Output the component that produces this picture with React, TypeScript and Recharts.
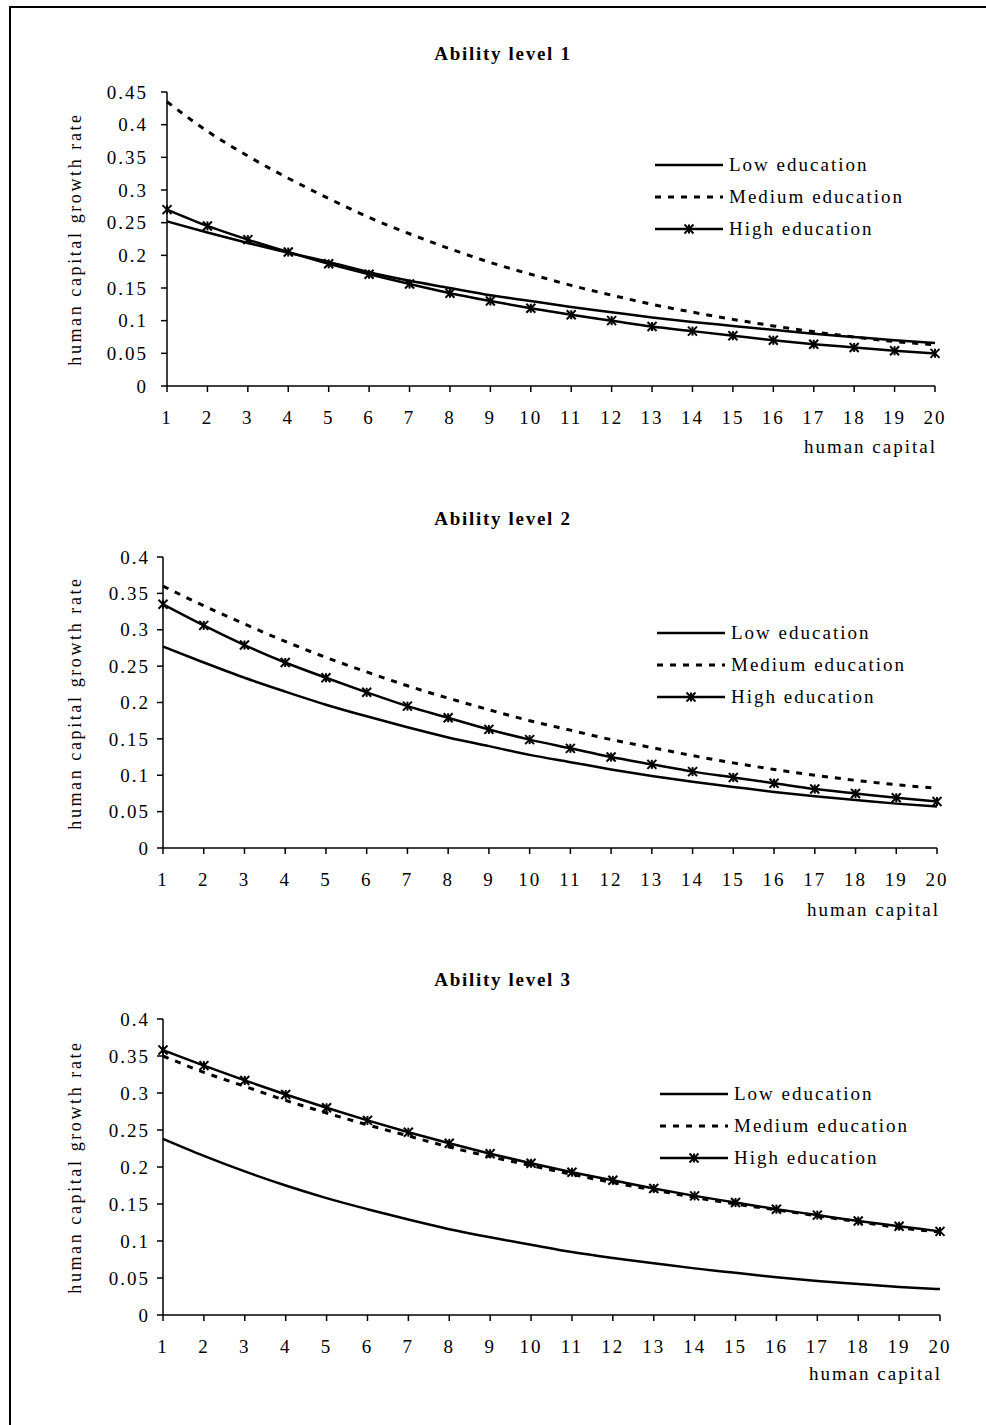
import { LineChart, Line, XAxis, YAxis, Legend } from "recharts";

const humanCapital = [1, 2, 3, 4, 5, 6, 7, 8, 9, 10, 11, 12, 13, 14, 15, 16, 17, 18, 19, 20];

// Ability level 1
const low1 = [0.252, 0.235, 0.219, 0.204, 0.19, 0.174, 0.161, 0.15, 0.139, 0.13, 0.121, 0.113, 0.105, 0.098, 0.092, 0.086, 0.08, 0.075, 0.07, 0.066];
const med1 = [0.435, 0.39, 0.352, 0.318, 0.287, 0.258, 0.233, 0.21, 0.189, 0.171, 0.154, 0.139, 0.125, 0.113, 0.102, 0.092, 0.083, 0.075, 0.068, 0.063];
const high1 = [0.27, 0.245, 0.224, 0.205, 0.187, 0.171, 0.156, 0.142, 0.13, 0.119, 0.109, 0.1, 0.091, 0.084, 0.077, 0.07, 0.064, 0.059, 0.054, 0.05];

// Ability level 2
const low2 = [0.277, 0.255, 0.234, 0.215, 0.197, 0.181, 0.166, 0.152, 0.14, 0.128, 0.118, 0.108, 0.099, 0.091, 0.084, 0.077, 0.071, 0.066, 0.061, 0.057];
const med2 = [0.36, 0.333, 0.308, 0.284, 0.262, 0.242, 0.223, 0.206, 0.19, 0.175, 0.162, 0.149, 0.138, 0.127, 0.117, 0.108, 0.1, 0.093, 0.087, 0.082];
const high2 = [0.335, 0.306, 0.279, 0.255, 0.234, 0.214, 0.195, 0.179, 0.163, 0.149, 0.137, 0.125, 0.115, 0.105, 0.097, 0.089, 0.081, 0.075, 0.069, 0.064];

// Ability level 3
const low3 = [0.238, 0.215, 0.194, 0.175, 0.158, 0.143, 0.129, 0.116, 0.105, 0.095, 0.085, 0.077, 0.07, 0.063, 0.057, 0.051, 0.046, 0.042, 0.038, 0.035];
const med3 = [0.35, 0.328, 0.309, 0.29, 0.273, 0.257, 0.242, 0.227, 0.214, 0.202, 0.19, 0.179, 0.169, 0.159, 0.15, 0.142, 0.134, 0.126, 0.118, 0.112];
const high3 = [0.358, 0.337, 0.317, 0.298, 0.28, 0.263, 0.247, 0.232, 0.218, 0.205, 0.193, 0.182, 0.171, 0.161, 0.152, 0.143, 0.135, 0.127, 0.12, 0.113];

const yTicks1 = [0, 0.05, 0.1, 0.15, 0.2, 0.25, 0.3, 0.35, 0.4, 0.45];
const yTicks23 = [0, 0.05, 0.1, 0.15, 0.2, 0.25, 0.3, 0.35, 0.4];

const SERIES = [
  { key: "low", label: "Low education", dash: undefined, marker: false },
  { key: "med", label: "Medium education", dash: "6 7", marker: false },
  { key: "high", label: "High education", dash: undefined, marker: true },
] as const;

const FONT = '"Liberation Serif", "Times New Roman", serif';
const PANEL_H = 475;

function Star(props: any) {
  const { cx, cy } = props;
  if (cx == null || cy == null) return null;
  const r = 4.5;
  return (
    <g stroke="#000" strokeWidth={2}>
      <line x1={cx - r} y1={cy - r} x2={cx + r} y2={cy + r} />
      <line x1={cx - r} y1={cy + r} x2={cx + r} y2={cy - r} />
      <line x1={cx} y1={cy - r} x2={cx} y2={cy + r} />
    </g>
  );
}

function LegendBox() {
  return (
    <div style={{ fontFamily: FONT, fontSize: 19, letterSpacing: 2, color: "#000" }}>
      {SERIES.map((s) => (
        <div key={s.key} style={{ display: "flex", alignItems: "center", height: 32 }}>
          <svg width={70} height={14} style={{ marginRight: 4 }}>
            <line x1={0} y1={7} x2={68} y2={7} stroke="#000" strokeWidth={s.dash ? 3 : 2.5} strokeDasharray={s.dash} />
            {s.marker && <Star cx={34} cy={7} />}
          </svg>
          <span>{s.label}</span>
        </div>
      ))}
    </div>
  );
}

interface PanelProps {
  top: number;
  title: string;
  low: number[];
  med: number[];
  high: number[];
  yMax: number;
  yTicks: number[];
  margin: { top: number; right: number; bottom: number; left: number };
  tickGap: number;
  titleY: number;
  yLabelX: number;
  xLabelRight: number;
  xLabelY: number;
  legendLeft: number;
  legendTop: number;
}

function Panel(p: PanelProps) {
  const data = humanCapital.map((h, i) => ({ hc: h, low: p.low[i], med: p.med[i], high: p.high[i] }));
  const plotTop = p.margin.top;
  const plotBottom = PANEL_H - p.margin.bottom - 30;
  const yMid = (plotTop + plotBottom) / 2;
  const tickStyle = { fill: "#000", fontSize: 19, fontFamily: FONT, letterSpacing: 2 };

  return (
    <div style={{ position: "absolute", left: 0, top: p.top, width: 986, height: PANEL_H }}>
      <LineChart width={986} height={PANEL_H} data={data} margin={p.margin}>
        <XAxis
          dataKey="hc"
          type="number"
          domain={[1, 20]}
          ticks={humanCapital}
          interval={0}
          height={30}
          stroke="#000"
          strokeWidth={1.5}
          tickSize={6}
          tickMargin={19}
          tick={tickStyle}
        />
        <YAxis
          type="number"
          domain={[0, p.yMax]}
          ticks={p.yTicks}
          interval={0}
          width={60}
          stroke="#000"
          strokeWidth={1.5}
          tickSize={6}
          tickMargin={p.tickGap}
          tick={tickStyle}
        />
        <Legend
          layout="horizontal"
          align="center"
          verticalAlign="middle"
          content={() => <LegendBox />}
          wrapperStyle={{ position: "absolute", left: p.legendLeft, top: p.legendTop, width: "auto", height: "auto" }}
        />
        {SERIES.map((s) => (
          <Line
            key={s.key}
            type="monotone"
            dataKey={s.key}
            stroke="#000"
            strokeWidth={s.dash ? 3 : 2.5}
            strokeDasharray={s.dash}
            dot={s.marker ? <Star /> : false}
            activeDot={false}
            isAnimationActive={false}
          />
        ))}
      </LineChart>
      <div
        style={{
          position: "absolute",
          left: 0,
          width: 986,
          top: p.titleY - 12,
          textAlign: "center",
          fontFamily: FONT,
          fontWeight: "bold",
          fontSize: 19,
          letterSpacing: 1.7,
          paddingLeft: 20,
          boxSizing: "border-box",
        }}
      >
        {p.title}
      </div>
      <div
        style={{
          position: "absolute",
          left: p.yLabelX - 150,
          top: yMid - 11,
          width: 300,
          textAlign: "center",
          transform: "rotate(-90deg)",
          fontFamily: FONT,
          fontSize: 18,
          letterSpacing: 2.6,
          lineHeight: "22px",
        }}
      >
        human capital growth rate
      </div>
      <div
        style={{
          position: "absolute",
          right: 986 - p.xLabelRight,
          top: p.xLabelY - 12,
          fontFamily: FONT,
          fontSize: 19,
          letterSpacing: 2,
          lineHeight: "24px",
        }}
      >
        human capital
      </div>
    </div>
  );
}

export default function App() {
  return (
    <div style={{ position: "absolute", left: 0, top: 0, width: 986, height: 1425, background: "#fff", overflow: "hidden" }}>
      <div style={{ position: "absolute", left: 9, top: 6, width: 986, height: 1430, borderLeft: "2px solid #000", borderTop: "2px solid #000" }} />
      <Panel
        top={0}
        title="Ability level 1"
        low={low1}
        med={med1}
        high={high1}
        yMax={0.45}
        yTicks={yTicks1}
        margin={{ top: 92, right: 51, bottom: 59, left: 107 }}
        tickGap={13}
        titleY={55}
        yLabelX={75}
        xLabelRight={937}
        xLabelY={447}
        legendLeft={655}
        legendTop={149}
      />
      <Panel
        top={475}
        title="Ability level 2"
        low={low2}
        med={med2}
        high={high2}
        yMax={0.4}
        yTicks={yTicks23}
        margin={{ top: 82, right: 49, bottom: 72, left: 103 }}
        tickGap={7}
        titleY={45}
        yLabelX={75}
        xLabelRight={940}
        xLabelY={435}
        legendLeft={657}
        legendTop={142}
      />
      <Panel
        top={950}
        title="Ability level 3"
        low={low3}
        med={med3}
        high={high3}
        yMax={0.4}
        yTicks={yTicks23}
        margin={{ top: 69, right: 46, bottom: 80, left: 103 }}
        tickGap={7}
        titleY={31}
        yLabelX={75}
        xLabelRight={942}
        xLabelY={424}
        legendLeft={660}
        legendTop={128}
      />
    </div>
  );
}
